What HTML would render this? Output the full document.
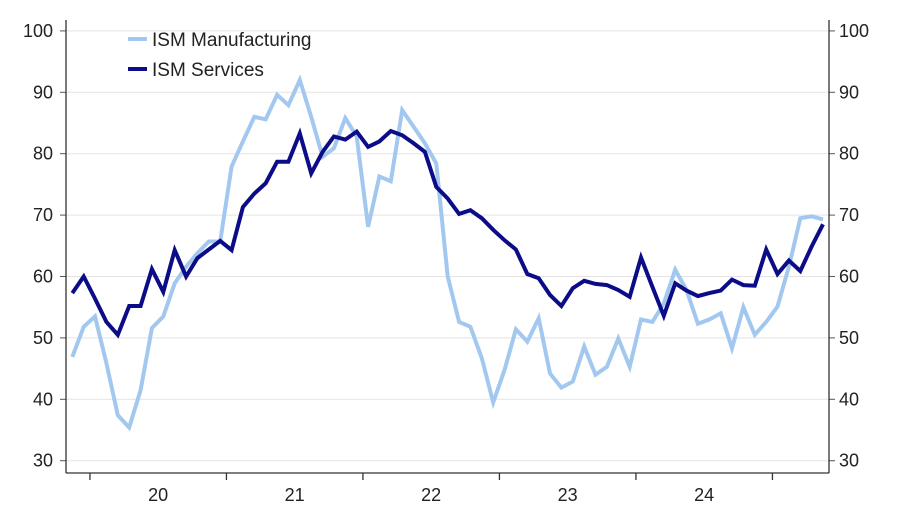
<!DOCTYPE html>
<html><head><meta charset="utf-8"><style>
html,body{margin:0;padding:0;background:#fff;}
svg{display:block;font-family:"Liberation Sans",sans-serif;}
</style></head><body>
<svg id="chart" width="900" height="510"></svg>
<script>
const years=["20","21","22","23","24"];
const yTicks=[30,40,50,60,70,80,90,100];
const manufacturing=[46.9,51.8,53.5,45.9,37.4,35.4,41.5,51.6,53.5,58.9,61.6,63.8,65.7,65.7,77.9,82,86,85.6,89.6,87.9,92,86,79.5,80.9,85.8,82.8,68.1,76.3,75.5,87.1,84.4,81.7,78.4,60,52.6,51.8,46.7,39.5,44.8,51.4,49.4,53.2,44.2,41.9,42.9,48.6,44,45.3,49.9,45.3,53,52.6,55.6,61.1,57.8,52.3,53,54,48.3,55,50.5,52.6,55.1,61.6,69.5,69.8,69.3];
const services=[57.3,60,56.4,52.6,50.5,55.2,55.2,61.2,57.5,64.3,60,63,64.4,65.8,64.3,71.3,73.5,75.2,78.7,78.7,83.3,76.8,80.3,82.8,82.3,83.6,81.1,82,83.7,83,81.7,80.3,74.6,72.7,70.2,70.8,69.5,67.6,65.9,64.4,60.4,59.7,57,55.2,58.1,59.3,58.8,58.6,57.8,56.7,63.1,58.3,53.6,58.9,57.7,56.8,57.3,57.7,59.5,58.6,58.5,64.4,60.4,62.6,60.9,64.9,68.5];
const NS="http://www.w3.org/2000/svg";
const svg=document.getElementById('chart');
const L=66,R=829,B=473;
const x0=72.3,mw=11.375,firstTickIdx=1.55;
function xs(i){return x0+i*mw;}
function ys(v){return 460.7-(v-30)*6.14;}
function mk(t,a){const e=document.createElementNS(NS,t);for(const k in a)e.setAttribute(k,a[k]);svg.appendChild(e);return e;}
yTicks.forEach(v=>{
  const g=mk('line',{x1:L,x2:R,y1:ys(v),y2:ys(v),stroke:'#e3e3e3','stroke-width':1});
  
  
  const tl=mk('text',{x:53,y:ys(v)+6,'text-anchor':'end','font-size':18,fill:'#222'});
  tl.textContent=v;
  
  
  const tr=mk('text',{x:839,y:ys(v)+6,'text-anchor':'start','font-size':18,fill:'#222'});
  tr.textContent=v;
  
  
  const tk=mk('line',{x1:R,x2:R+6,y1:ys(v),y2:ys(v),stroke:'#555','stroke-width':1});
  
  
  const tk2=mk('line',{x1:L-6,x2:L,y1:ys(v),y2:ys(v),stroke:'#555','stroke-width':1});
  
  
});
const ax=mk('line',{x1:L,x2:L,y1:20,y2:B,stroke:'#333','stroke-width':1.3});


const ax2=mk('line',{x1:R,x2:R,y1:20,y2:B,stroke:'#333','stroke-width':1.3});


const xa=mk('line',{x1:L,x2:R,y1:B,y2:B,stroke:'#333','stroke-width':1.3});


for(let k=0;k<=years.length;k++){
  const tx=xs(firstTickIdx+12*k);
  const t=mk('line',{x1:tx,x2:tx,y1:B,y2:B+7,stroke:'#333','stroke-width':1.3});
  
  
}
years.forEach((y,k)=>{
  const t=mk('text',{x:xs(firstTickIdx+12*k+6),y:501,'text-anchor':'middle','font-size':18,fill:'#222'});
  t.textContent=y;
  
  
});
function line(data,color,name){
  const p=mk('polyline',{points:data.map((v,i)=>xs(i).toFixed(1)+','+ys(v).toFixed(1)).join(' '),fill:'none',stroke:color,'stroke-width':4,'stroke-linejoin':'miter'});
  
  
}
line(manufacturing,'#a3c8f0','manufacturing-line');
line(services,'#0c0c88','services-line');
const lg1=mk('line',{x1:128,x2:147,y1:39,y2:39,stroke:'#a3c8f0','stroke-width':4});


const lt1=mk('text',{x:152,y:46,'font-size':19,fill:'#222'});
lt1.textContent='ISM Manufacturing';


const lg2=mk('line',{x1:128,x2:147,y1:69,y2:69,stroke:'#0c0c88','stroke-width':4});


const lt2=mk('text',{x:152,y:76,'font-size':19,fill:'#222'});
lt2.textContent='ISM Services';


</script>
</body></html>
